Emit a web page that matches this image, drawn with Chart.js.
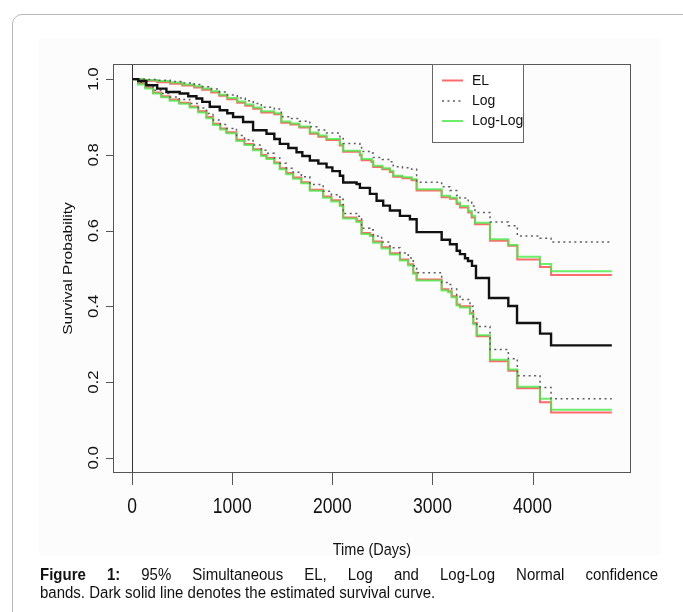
<!DOCTYPE html>
<html lang="en">
<head>
  <meta charset="UTF-8">
  <title>Simultaneous confidence bands</title>
  <style type="text/css">
    html, body {
      margin: 0;
      padding: 0;
      width: 683px;
      height: 612px;
      overflow: hidden;
      background-color: #fff;
      font-family: "Liberation Sans", Arial, sans-serif;
    }

    .frame {
      position: absolute;
      left: 12px;
      top: 14px;
      width: 700px;
      height: 620px;
      border: 1px solid #b8b8b8;
      border-radius: 10px 0 0 0;
    }

    .panel {
      position: absolute;
      left: 39px;
      top: 38px;
      width: 621px;
      height: 517px;
      background-color: #fcfcfc;
    }

    #chart {
      position: absolute;
      left: 0;
      top: 0;
    }

    .caption {
      position: absolute;
      left: 40px;
      width: 618px;
      font-size: 15px;
      line-height: 15px;
      color: #111;
      transform: scaleY(1.15);
      transform-origin: 0 0;
    }

    .line1 { top: 565px; text-align: justify; text-align-last: justify; }
    .line2 { top: 583px; }
  </style>
  <script src="https://cdn.jsdelivr.net/npm/chart.js"></script>
</head>
<body>
  <div class="frame"></div>
  <div class="panel"></div>
  <canvas id="chart" width="683" height="612"></canvas>
  <div class="caption line1"><b>Figure 1:</b> 95% Simultaneous EL, Log and Log-Log Normal confidence</div>
  <div class="caption line2">bands. Dark solid line denotes the estimated survival curve.</div>

  <script>
    // estimated survival curve (Kaplan-Meier, step drops)
    const estTime = [0, 60, 142, 250, 342, 475, 560, 642, 700, 775, 875, 950, 1008, 1108, 1208, 1342, 1420, 1475, 1560, 1642,
      1700, 1775, 1860, 1942, 2000, 2075, 2108, 2242, 2275, 2375, 2442, 2508, 2575, 2675, 2775, 2842, 3092, 3175, 3242, 3275,
      3325, 3355, 3395, 3435, 3565, 3758, 3845, 4075, 4185, 4792];
    const estSurv = [1.0, 0.995, 0.984, 0.975, 0.966, 0.962, 0.955, 0.949, 0.940, 0.927, 0.918, 0.910, 0.900, 0.887, 0.865, 0.856, 0.842, 0.829, 0.818, 0.807,
      0.797, 0.785, 0.777, 0.767, 0.757, 0.745, 0.727, 0.723, 0.713, 0.697, 0.679, 0.666, 0.653, 0.639, 0.630, 0.596, 0.576, 0.564, 0.547, 0.538,
      0.527, 0.520, 0.507, 0.475, 0.422, 0.401, 0.356, 0.328, 0.297, 0.297];

    // upper band limits
    const upTime = [0, 120, 250, 380, 500, 620, 700, 790, 870, 950, 1050, 1130, 1210, 1290, 1420, 1490, 1580, 1670, 1775, 1860,
      1942, 2075, 2108, 2275, 2292, 2392, 2408, 2500, 2575, 2608, 2700, 2792, 2842, 3092, 3175, 3242, 3275, 3358, 3392, 3425,
      3575, 3758, 3848, 4075, 4185, 4792];
    const elUpper = [1.0, 0.996, 0.992, 0.988, 0.983, 0.978, 0.972, 0.965, 0.956, 0.947, 0.938, 0.930, 0.922, 0.912, 0.907, 0.885, 0.880, 0.872, 0.856, 0.848,
      0.839, 0.825, 0.808, 0.799, 0.786, 0.781, 0.768, 0.762, 0.755, 0.742, 0.738, 0.733, 0.706, 0.688, 0.684, 0.670, 0.661, 0.648, 0.635, 0.617,
      0.573, 0.560, 0.524, 0.504, 0.483, 0.483];
    const logUpper = [1.0, 0.999, 0.997, 0.994, 0.990, 0.986, 0.980, 0.974, 0.966, 0.958, 0.950, 0.943, 0.936, 0.926, 0.921, 0.901, 0.896, 0.889, 0.874, 0.866,
      0.858, 0.846, 0.830, 0.822, 0.809, 0.805, 0.793, 0.788, 0.782, 0.769, 0.766, 0.762, 0.728, 0.716, 0.706, 0.693, 0.686, 0.675, 0.665, 0.648,
      0.623, 0.613, 0.586, 0.580, 0.570, 0.570];
    const llUpper = [1.0, 0.998, 0.995, 0.991, 0.986, 0.981, 0.975, 0.968, 0.959, 0.950, 0.941, 0.933, 0.925, 0.915, 0.910, 0.888, 0.883, 0.875, 0.859, 0.851,
      0.842, 0.828, 0.811, 0.802, 0.789, 0.784, 0.771, 0.765, 0.758, 0.745, 0.741, 0.736, 0.709, 0.692, 0.687, 0.674, 0.665, 0.652, 0.639, 0.621,
      0.577, 0.562, 0.531, 0.512, 0.493, 0.493];

    // lower band limits
    const lowTime = [0, 58, 130, 208, 290, 375, 470, 575, 660, 742, 808, 880, 942, 1042, 1122, 1208, 1290, 1342, 1420, 1475,
      1540, 1608, 1690, 1775, 1908, 1990, 2075, 2108, 2242, 2292, 2375, 2408, 2492, 2575, 2675, 2758, 2808, 2842, 3092, 3158,
      3192, 3242, 3275, 3375, 3408, 3442, 3575, 3758, 3848, 4075, 4185, 4792];
    const elLower = [1.0, 0.989, 0.978, 0.965, 0.955, 0.946, 0.938, 0.928, 0.915, 0.900, 0.882, 0.870, 0.860, 0.840, 0.829, 0.815, 0.800, 0.792, 0.780, 0.765,
      0.752, 0.740, 0.728, 0.708, 0.690, 0.680, 0.668, 0.635, 0.626, 0.594, 0.589, 0.571, 0.556, 0.540, 0.524, 0.511, 0.489, 0.471, 0.445, 0.440,
      0.427, 0.405, 0.400, 0.383, 0.356, 0.321, 0.255, 0.230, 0.184, 0.147, 0.120, 0.120];
    const logLower = [1.0, 0.992, 0.983, 0.971, 0.962, 0.953, 0.946, 0.936, 0.924, 0.909, 0.892, 0.880, 0.870, 0.851, 0.840, 0.826, 0.812, 0.804, 0.792, 0.778,
      0.765, 0.754, 0.742, 0.722, 0.704, 0.695, 0.683, 0.645, 0.638, 0.606, 0.602, 0.586, 0.570, 0.555, 0.541, 0.528, 0.507, 0.489, 0.463, 0.458,
      0.446, 0.427, 0.418, 0.400, 0.372, 0.347, 0.286, 0.262, 0.217, 0.186, 0.156, 0.156];
    const llLower = [1.0, 0.986, 0.975, 0.962, 0.952, 0.943, 0.935, 0.925, 0.912, 0.897, 0.879, 0.867, 0.857, 0.837, 0.826, 0.812, 0.797, 0.789, 0.777, 0.762,
      0.749, 0.737, 0.725, 0.705, 0.687, 0.677, 0.665, 0.632, 0.623, 0.591, 0.586, 0.568, 0.553, 0.537, 0.521, 0.508, 0.486, 0.468, 0.442, 0.437,
      0.424, 0.402, 0.397, 0.380, 0.353, 0.324, 0.259, 0.233, 0.188, 0.156, 0.127, 0.127];

    const xTicks = [0, 1000, 2000, 3000, 4000];
    const yTicks = [0, 0.2, 0.4, 0.6, 0.8, 1.0];
    const legendLabels = ['EL', 'Log', 'Log-Log'];

    const RED = 'rgba(255, 70, 70, 0.8)';
    const GREEN = 'rgba(70, 235, 70, 0.8)';
    const GREY = '#5e5e5e';

    function pts(ts, vs) {
      return ts.map((t, i) => ({ x: t, y: vs[i] }));
    }

    function curve(label, ts, vs, color, width, order, dash) {
      return {
        label: label,
        data: pts(ts, vs),
        borderColor: color,
        borderWidth: width,
        borderDash: dash || [],
        stepped: true,
        pointRadius: 0,
        fill: false,
        order: order
      };
    }

    // draws text with a small stretch, the figure was squashed sideways
    function txt(ctx, s, x, y, size, sx, sy, rot, align) {
      ctx.save();
      ctx.translate(x, y);
      if (rot) ctx.rotate(rot);
      ctx.scale(sx, sy);
      ctx.font = size + 'px "Liberation Sans", Arial, sans-serif';
      ctx.fillStyle = '#111';
      ctx.textAlign = align || 'center';
      ctx.textBaseline = 'middle';
      ctx.fillText(s, 0, 0);
      ctx.restore();
    }

    // base R look: box, outside ticks, rotated y labels, boxed legend
    const rStyle = {
      id: 'rStyle',
      beforeDatasetsDraw(chart) {
        const { ctx, chartArea: a, scales: { x } } = chart;
        const x0 = Math.round(x.getPixelForValue(0)) + 0.5;
        ctx.save();
        ctx.strokeStyle = '#333';
        ctx.lineWidth = 1;
        ctx.beginPath();
        ctx.moveTo(x0, a.top);
        ctx.lineTo(x0, a.bottom);
        ctx.stroke();
        ctx.restore();
      },
      afterDatasetsDraw(chart) {
        const { ctx, chartArea: a, scales: { x, y } } = chart;
        ctx.save();
        ctx.strokeStyle = '#555';
        ctx.lineWidth = 1;
        ctx.strokeRect(a.left + 0.5, a.top + 0.5, a.right - a.left - 1, a.bottom - a.top - 1);

        ctx.beginPath();
        xTicks.forEach(v => {
          const px = Math.round(x.getPixelForValue(v)) + 0.5;
          ctx.moveTo(px, a.bottom);
          ctx.lineTo(px, a.bottom + 12);
        });
        yTicks.forEach(v => {
          const py = Math.round(y.getPixelForValue(v)) + 0.5;
          ctx.moveTo(a.left - 7, py);
          ctx.lineTo(a.left, py);
        });
        ctx.stroke();

        xTicks.forEach(v => txt(ctx, String(v), x.getPixelForValue(v), 507, 17.5, 1, 1.27));
        yTicks.forEach(v => txt(ctx, v.toFixed(1), 93.5, y.getPixelForValue(v), 15, 1.12, 1, -Math.PI / 2));

        txt(ctx, 'Time (Days)', (a.left + a.right) / 2, 550, 14.5, 1, 1.2);
        txt(ctx, 'Survival Probability', 68, (a.top + a.bottom) / 2, 13, 1.2, 1, -Math.PI / 2);

        // legend
        ctx.fillStyle = '#fff';
        ctx.fillRect(432.5, a.top + 0.5, 91, 78);
        ctx.strokeStyle = '#666';
        ctx.strokeRect(432.5, a.top + 0.5, 91, 78);
        const rows = [80.5, 101, 121];
        legendLabels.forEach((lab, i) => {
          const ds = chart.data.datasets.find(d => d.label === lab);
          ctx.save();
          ctx.strokeStyle = ds.borderColor;
          ctx.lineWidth = ds.borderWidth;
          ctx.setLineDash(ds.borderDash);
          ctx.beginPath();
          ctx.moveTo(442, rows[i]);
          ctx.lineTo(463, rows[i]);
          ctx.stroke();
          ctx.restore();
          txt(ctx, lab, 472, rows[i], 14, 1, 1.1, 0, 'left');
        });
        ctx.restore();
      }
    };

    new Chart(document.getElementById('chart'), {
      type: 'line',
      data: {
        datasets: [
          curve('Estimate', estTime, estSurv, '#111', 2.4, 0),
          curve('Log', upTime, logUpper, GREY, 1.5, 1, [2, 3.5]),
          curve('Log', lowTime, logLower, GREY, 1.5, 1, [2, 3.5]),
          curve('Log-Log', upTime, llUpper, GREEN, 2, 2),
          curve('Log-Log', lowTime, llLower, GREEN, 2, 2),
          curve('EL', upTime, elUpper, RED, 2, 3),
          curve('EL', lowTime, elLower, RED, 2, 3)
        ]
      },
      options: {
        responsive: false,
        animation: false,
        devicePixelRatio: 1,
        layout: { padding: { left: 113, top: 64, right: 52, bottom: 139 } },
        datasets: { line: { tension: 0 } },
        scales: {
          x: { type: 'linear', min: -191.7, max: 4983.7, display: false },
          y: { type: 'linear', min: -0.04, max: 1.04, display: false }
        },
        plugins: {
          legend: { display: false },
          tooltip: { enabled: false }
        }
      },
      plugins: [rStyle]
    });
  </script>
</body>
</html>
